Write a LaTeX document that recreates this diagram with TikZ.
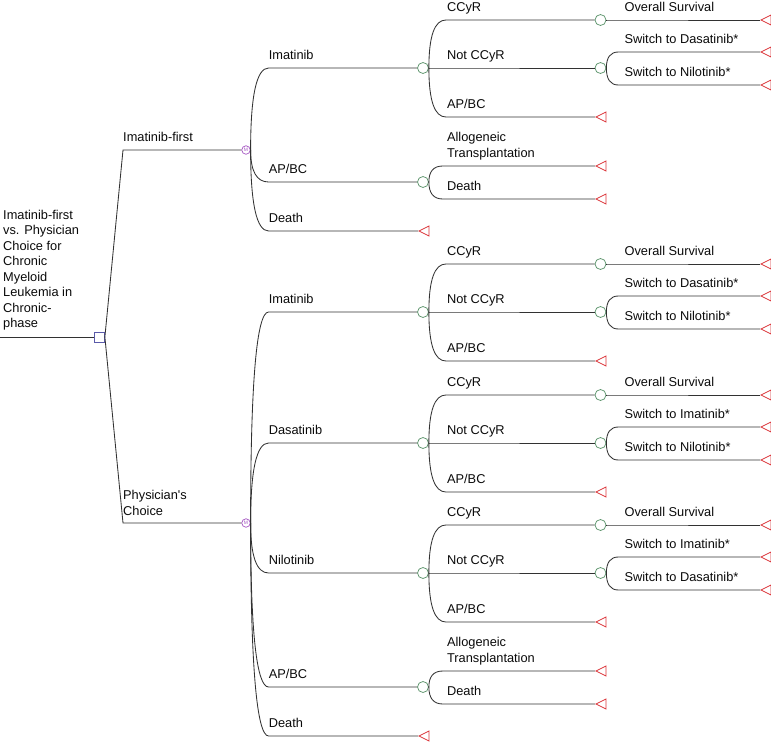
\documentclass[tikz,border=0pt]{standalone}
\usepackage{fontspec}
\setmainfont{Liberation Sans}[Ligatures=TeXOff]
\usetikzlibrary{calc,shapes.geometric}
\definecolor{linegray}{RGB}{50,50,50}
\definecolor{chancegreen}{RGB}{95,150,110}
\definecolor{termred}{RGB}{220,55,60}
\definecolor{markovpurple}{RGB}{165,85,195}
\definecolor{decblue}{RGB}{90,90,170}
\definecolor{txt}{RGB}{10,10,10}
\tikzset{
  br/.style={draw=linegray, line width=0.85pt},
  chance/.style={circle, draw=chancegreen, fill=white, line width=0.75pt, minimum size=11pt, inner sep=0pt},
  markov/.style={circle, draw=markovpurple, fill=white, line width=0.7pt, minimum size=8.5pt, inner sep=0pt,
     text=markovpurple, font=\fontsize{5}{5}\selectfont},
  decision/.style={rectangle, draw=decblue, fill=white, line width=0.75pt, minimum size=10pt, inner sep=0pt},
  term/.style={isosceles triangle, isosceles triangle stretches, shape border rotate=180,
     draw=termred, fill=white, line width=0.75pt, minimum width=10pt, minimum height=10pt, inner sep=0pt, anchor=apex},
  lab/.style={anchor=south west, inner sep=0pt, text depth=0pt, align=left, text=txt,
     font=\fontsize{12.8}{15.5}\selectfont},
}
% parent, child, horizontal offset, label
\newcommand\tbranch[4]{%
  \draw[br] (#1.east) .. controls ($(#1.east)!0.6667!(#1.east |- #2)$) and ($(#1.east |- #2)+(#3*0.3333,0)$) .. ($(#1.east |- #2)+(#3,0)$) -- (#2);
  \node[lab] (#2-lab) at ($(#1.east |- #2)+(18,-8.5)$) {#4};}
\begin{document}
\begin{tikzpicture}[x=1pt,y=-1pt]
\useasboundingbox (0,0) rectangle (771,744);

% root
\coordinate (start) at (0,337);
\node[decision] (dec) at (99.5,337) {};
\draw[br] (start) -- (dec);
\node[lab] (rootlab) at (3,328) {Imatinib-first\\vs. Physician\\Choice for\\Chronic\\Myeloid\\Leukemia in\\Chronic-\\phase};

\coordinate (b1) at (123,150);
\coordinate (b2) at (123,523);
\node[markov] (m1) at (246,150) {M};
\node[markov] (m2) at (246,523) {M};
\draw[br] (dec.east) -- (b1) -- (m1);
\draw[br] (dec.east) -- (b2) -- (m2);
\node[lab] (b1-lab) at (123,141.5) {Imatinib-first};
\node[lab] (b2-lab) at (123,515.5) {Physician's\\Choice};

% ---------- Imatinib-first ----------
\node[chance] (c1) at (423,68) {};
\node[chance] (c2) at (423,182) {};
\node[term] (t1) at (418,231) {};
\tbranch{m1}{c1}{18}{Imatinib}
\tbranch{m1}{c2}{18}{AP/BC}
\tbranch{m1}{t1}{18}{Death}

\node[chance] (c11) at (600.5,20) {};
\node[chance] (c12) at (600.5,68) {};
\node[term] (t13) at (595,117) {};
\tbranch{c1}{c11}{17}{CCyR}
\tbranch{c1}{c12}{17}{Not CCyR}
\tbranch{c1}{t13}{17}{AP/BC}

\node[term] (t111) at (760,20) {};
\tbranch{c11}{t111}{12}{Overall Survival}
\node[term] (t121) at (760,52) {};
\node[term] (t122) at (760,85) {};
\tbranch{c12}{t121}{12}{Switch to Dasatinib*}
\tbranch{c12}{t122}{12}{Switch to Nilotinib*}

\node[term] (t21) at (595,166) {};
\node[term] (t22) at (595,199) {};
\tbranch{c2}{t21}{14}{Allogeneic\\Transplantation}
\tbranch{c2}{t22}{14}{Death}

% ---------- Physician's Choice ----------
\node[chance] (d1) at (423,312) {};
\node[chance] (d2) at (423,443) {};
\node[chance] (d3) at (423,573) {};
\node[chance] (d4) at (423,687) {};
\node[term] (t5) at (418,736) {};
\tbranch{m2}{d1}{18}{Imatinib}
\tbranch{m2}{d2}{18}{Dasatinib}
\tbranch{m2}{d3}{18}{Nilotinib}
\tbranch{m2}{d4}{18}{AP/BC}
\tbranch{m2}{t5}{18}{Death}

% Imatinib
\node[chance] (d11) at (600.5,264) {};
\node[chance] (d12) at (600.5,312) {};
\node[term] (s13) at (595,361) {};
\tbranch{d1}{d11}{17}{CCyR}
\tbranch{d1}{d12}{17}{Not CCyR}
\tbranch{d1}{s13}{17}{AP/BC}
\node[term] (s111) at (760,264) {};
\tbranch{d11}{s111}{12}{Overall Survival}
\node[term] (s121) at (760,296) {};
\node[term] (s122) at (760,329) {};
\tbranch{d12}{s121}{12}{Switch to Dasatinib*}
\tbranch{d12}{s122}{12}{Switch to Nilotinib*}

% Dasatinib
\node[chance] (d21) at (600.5,395) {};
\node[chance] (d22) at (600.5,443) {};
\node[term] (s23) at (595,492) {};
\tbranch{d2}{d21}{17}{CCyR}
\tbranch{d2}{d22}{17}{Not CCyR}
\tbranch{d2}{s23}{17}{AP/BC}
\node[term] (s211) at (760,395) {};
\tbranch{d21}{s211}{12}{Overall Survival}
\node[term] (s221) at (760,427) {};
\node[term] (s222) at (760,460) {};
\tbranch{d22}{s221}{12}{Switch to Imatinib*}
\tbranch{d22}{s222}{12}{Switch to Nilotinib*}

% Nilotinib
\node[chance] (d31) at (600.5,525) {};
\node[chance] (d32) at (600.5,573) {};
\node[term] (s33) at (595,622) {};
\tbranch{d3}{d31}{17}{CCyR}
\tbranch{d3}{d32}{17}{Not CCyR}
\tbranch{d3}{s33}{17}{AP/BC}
\node[term] (s311) at (760,525) {};
\tbranch{d31}{s311}{12}{Overall Survival}
\node[term] (s321) at (760,557) {};
\node[term] (s322) at (760,590) {};
\tbranch{d32}{s321}{12}{Switch to Imatinib*}
\tbranch{d32}{s322}{12}{Switch to Dasatinib*}

% AP/BC
\node[term] (s41) at (595,671) {};
\node[term] (s42) at (595,704) {};
\tbranch{d4}{s41}{14}{Allogeneic\\Transplantation}
\tbranch{d4}{s42}{14}{Death}
\end{tikzpicture}
\end{document}
